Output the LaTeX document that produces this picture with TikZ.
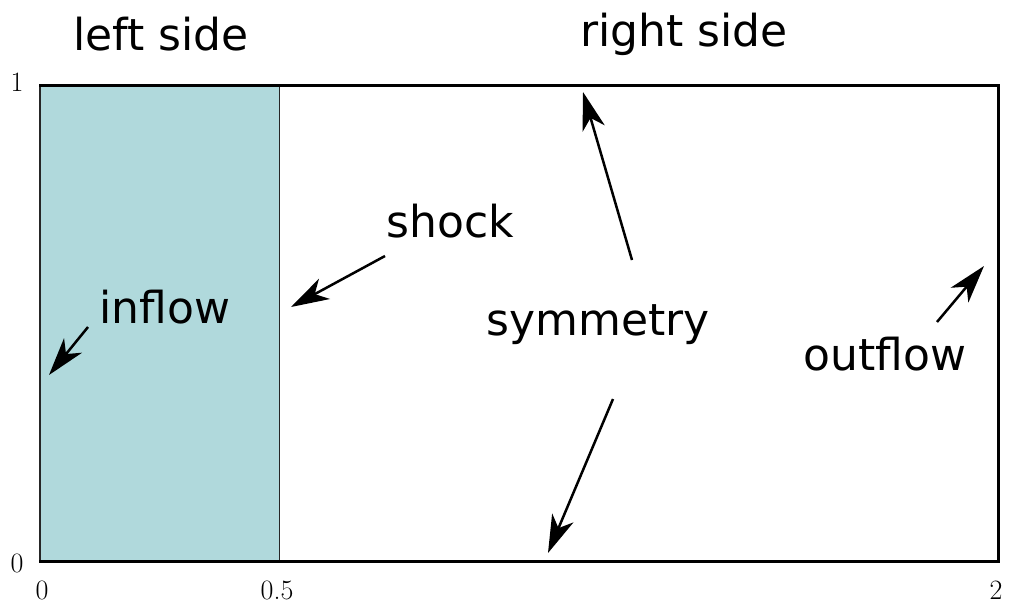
\documentclass[tikz,border=0pt]{standalone}
\usepackage{fontspec}
\newfontfamily\labelfont{DejaVu Sans}
\usetikzlibrary{arrows.meta}
\definecolor{leftfill}{RGB}{176,217,220}
\begin{document}
\begin{tikzpicture}[x=1pt,y=-1pt,
  lbl/.style={font=\labelfont\fontsize{44}{52}\selectfont, anchor=base, inner sep=0pt},
  tick/.style={font=\fontsize{28}{32}\selectfont, inner sep=0pt},
  pointer/.style={line width=2.5pt, -{Stealth[length=38pt,width=23pt,inset=11pt]}},
  thinedge/.style={line width=1.2pt, draw=black!85},
  thickedge/.style={line width=3pt, line cap=rect}]
\useasboundingbox (0,0) rectangle (1010,606);
% domain
\coordinate (BL) at (40,561);
\coordinate (TL) at (40,85);
\coordinate (BM) at (279.5,561);
\coordinate (TM) at (279.5,85);
\coordinate (BR) at (998,561);
\coordinate (TR) at (998,85);
\fill[leftfill] (BL) rectangle (TM);
\draw[thinedge] (BL) -- (TL);
\draw[thinedge] (BM) -- (TM);
\draw[thickedge] (TL) -- (TR) -- (BR) -- (BL);
% ticks
\node[tick] (t1) at (17,82) {1};
\node[tick] (t0) at (17,563) {0};
\node[tick] (x0) at (42,590) {0};
\node[tick] (x05) at (277,590) {0.5};
\node[tick] (x2) at (996,590) {2};
% labels
\node[lbl] (ls) at (161,50) {left side};
\node[lbl] (rs) at (684,46) {right side};
\node[lbl] (inflow) at (165,323) {inflow};
\node[lbl] (shock) at (450,237) {shock};
\node[lbl] (sym) at (598,335) {symmetry};
\node[lbl] (outflow) at (885,370) {outflow};
% arrow ends
\coordinate (a1s) at (88,327);  \coordinate (a1e) at (49,375);
\coordinate (a2s) at (385,256); \coordinate (a2e) at (291,307);
\coordinate (a3s) at (632,260); \coordinate (a3e) at (583,92);
\coordinate (a4s) at (613,399); \coordinate (a4e) at (548,553);
\coordinate (a5s) at (937,322); \coordinate (a5e) at (984,266);
\draw[pointer] (a1s) -- (a1e);
\draw[pointer] (a2s) -- (a2e);
\draw[pointer] (a3s) -- (a3e);
\draw[pointer] (a4s) -- (a4e);
\draw[pointer] (a5s) -- (a5e);
\end{tikzpicture}
\end{document}
